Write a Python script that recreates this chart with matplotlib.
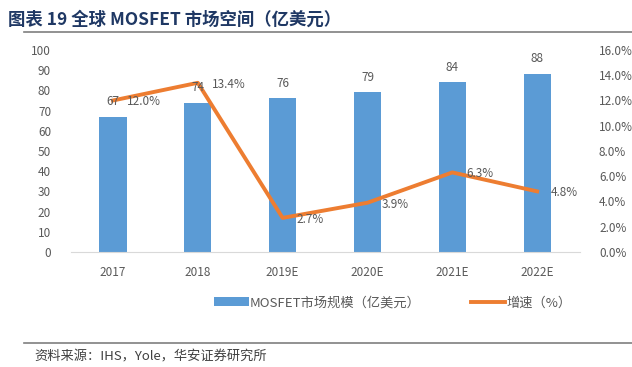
import matplotlib
matplotlib.use("Agg")
import matplotlib.pyplot as plt
from matplotlib.lines import Line2D
from matplotlib.patches import Patch

plt.rcParams['font.family'] = ['Noto Sans CJK SC', 'DejaVu Sans']

categories = ["2017", "2018", "2019E", "2020E", "2021E", "2022E"]
market = [67, 74, 76, 79, 84, 88]
growth = [12.0, 13.4, 2.7, 3.9, 6.3, 4.8]
left_ticks = list(range(0, 101, 10))
right_ticks = [0, 2, 4, 6, 8, 10, 12, 14, 16]

bar_color = "#5B9BD5"
line_color = "#ED7D31"
txt = "#595959"

fig = plt.figure(figsize=(6.32, 3.67), dpi=100)
ax = fig.add_axes([0.1116, 0.3134, 0.8054, 0.5504])
x = list(range(len(categories)))
ax.bar(x, market, width=0.32, color=bar_color, zorder=2)
ax.set_xlim(-0.5, len(categories) - 0.5)
ax.set_ylim(0, 100)
ax.set_yticks(left_ticks)
ax.set_xticks(x)
ax.set_xticklabels(categories)
ax.tick_params(axis='both', length=0, labelsize=8.5, colors=txt)
ax.tick_params(axis='y', pad=14)
ax.tick_params(axis='x', pad=10)
for s in ["top", "left", "right"]:
    ax.spines[s].set_visible(False)
ax.spines["bottom"].set_color("#D9D9D9")

ax2 = ax.twinx()
ax2.plot(x, growth, color=line_color, linewidth=2.8, zorder=3)
ax2.set_ylim(0, 16)
ax2.set_yticks(right_ticks)
ax2.set_yticklabels([f"{v:.1f}%" for v in right_ticks])
ax2.tick_params(axis='y', length=0, labelsize=8.5, colors=txt, pad=14)
for s in ["top", "left", "right", "bottom"]:
    ax2.spines[s].set_visible(False)

# bar labels (drawn on top axes so they sit above the line, as in the reference)
for i, v in enumerate(market):
    ax2.annotate(str(v), (i, v * 16 / 100), xytext=(0, 11), textcoords="offset points",
                 ha="center", va="center", fontsize=8.5, color=txt, zorder=4)
# line labels
for i, v in enumerate(growth):
    ax2.annotate(f"{v:.1f}%", (i, v), xytext=(10, -1), textcoords="offset points",
                 ha="left", va="center", fontsize=8.5, color=txt, zorder=4)

handles = [Patch(facecolor=bar_color), Line2D([0], [0], color=line_color, linewidth=2.8)]
fig.legend(handles, ["MOSFET市场规模（亿美元）", "增速（%）"], loc="center",
           bbox_to_anchor=(0.622, 0.175), ncol=2, frameon=False, fontsize=9.5,
           labelcolor=txt, handlelength=2.6, handletextpad=0.1, columnspacing=3.8)

fig.text(0.013, 0.945, "图表 19 全球 MOSFET 市场空间（亿美元）", fontsize=12.5,
         fontweight="bold", color="#1F3864", ha="left", va="center")
fig.add_artist(Line2D([0.038, 1.0], [0.913, 0.913], color="#7F7F7F", linewidth=1.2))
fig.add_artist(Line2D([0.038, 1.0], [0.065, 0.065], color="#7F7F7F", linewidth=1.2))
fig.text(0.055, 0.045, "资料来源：IHS，Yole，华安证券研究所", fontsize=9.5,
         color="#404040", ha="left", va="top")

fig.savefig("out.png", dpi=100)
